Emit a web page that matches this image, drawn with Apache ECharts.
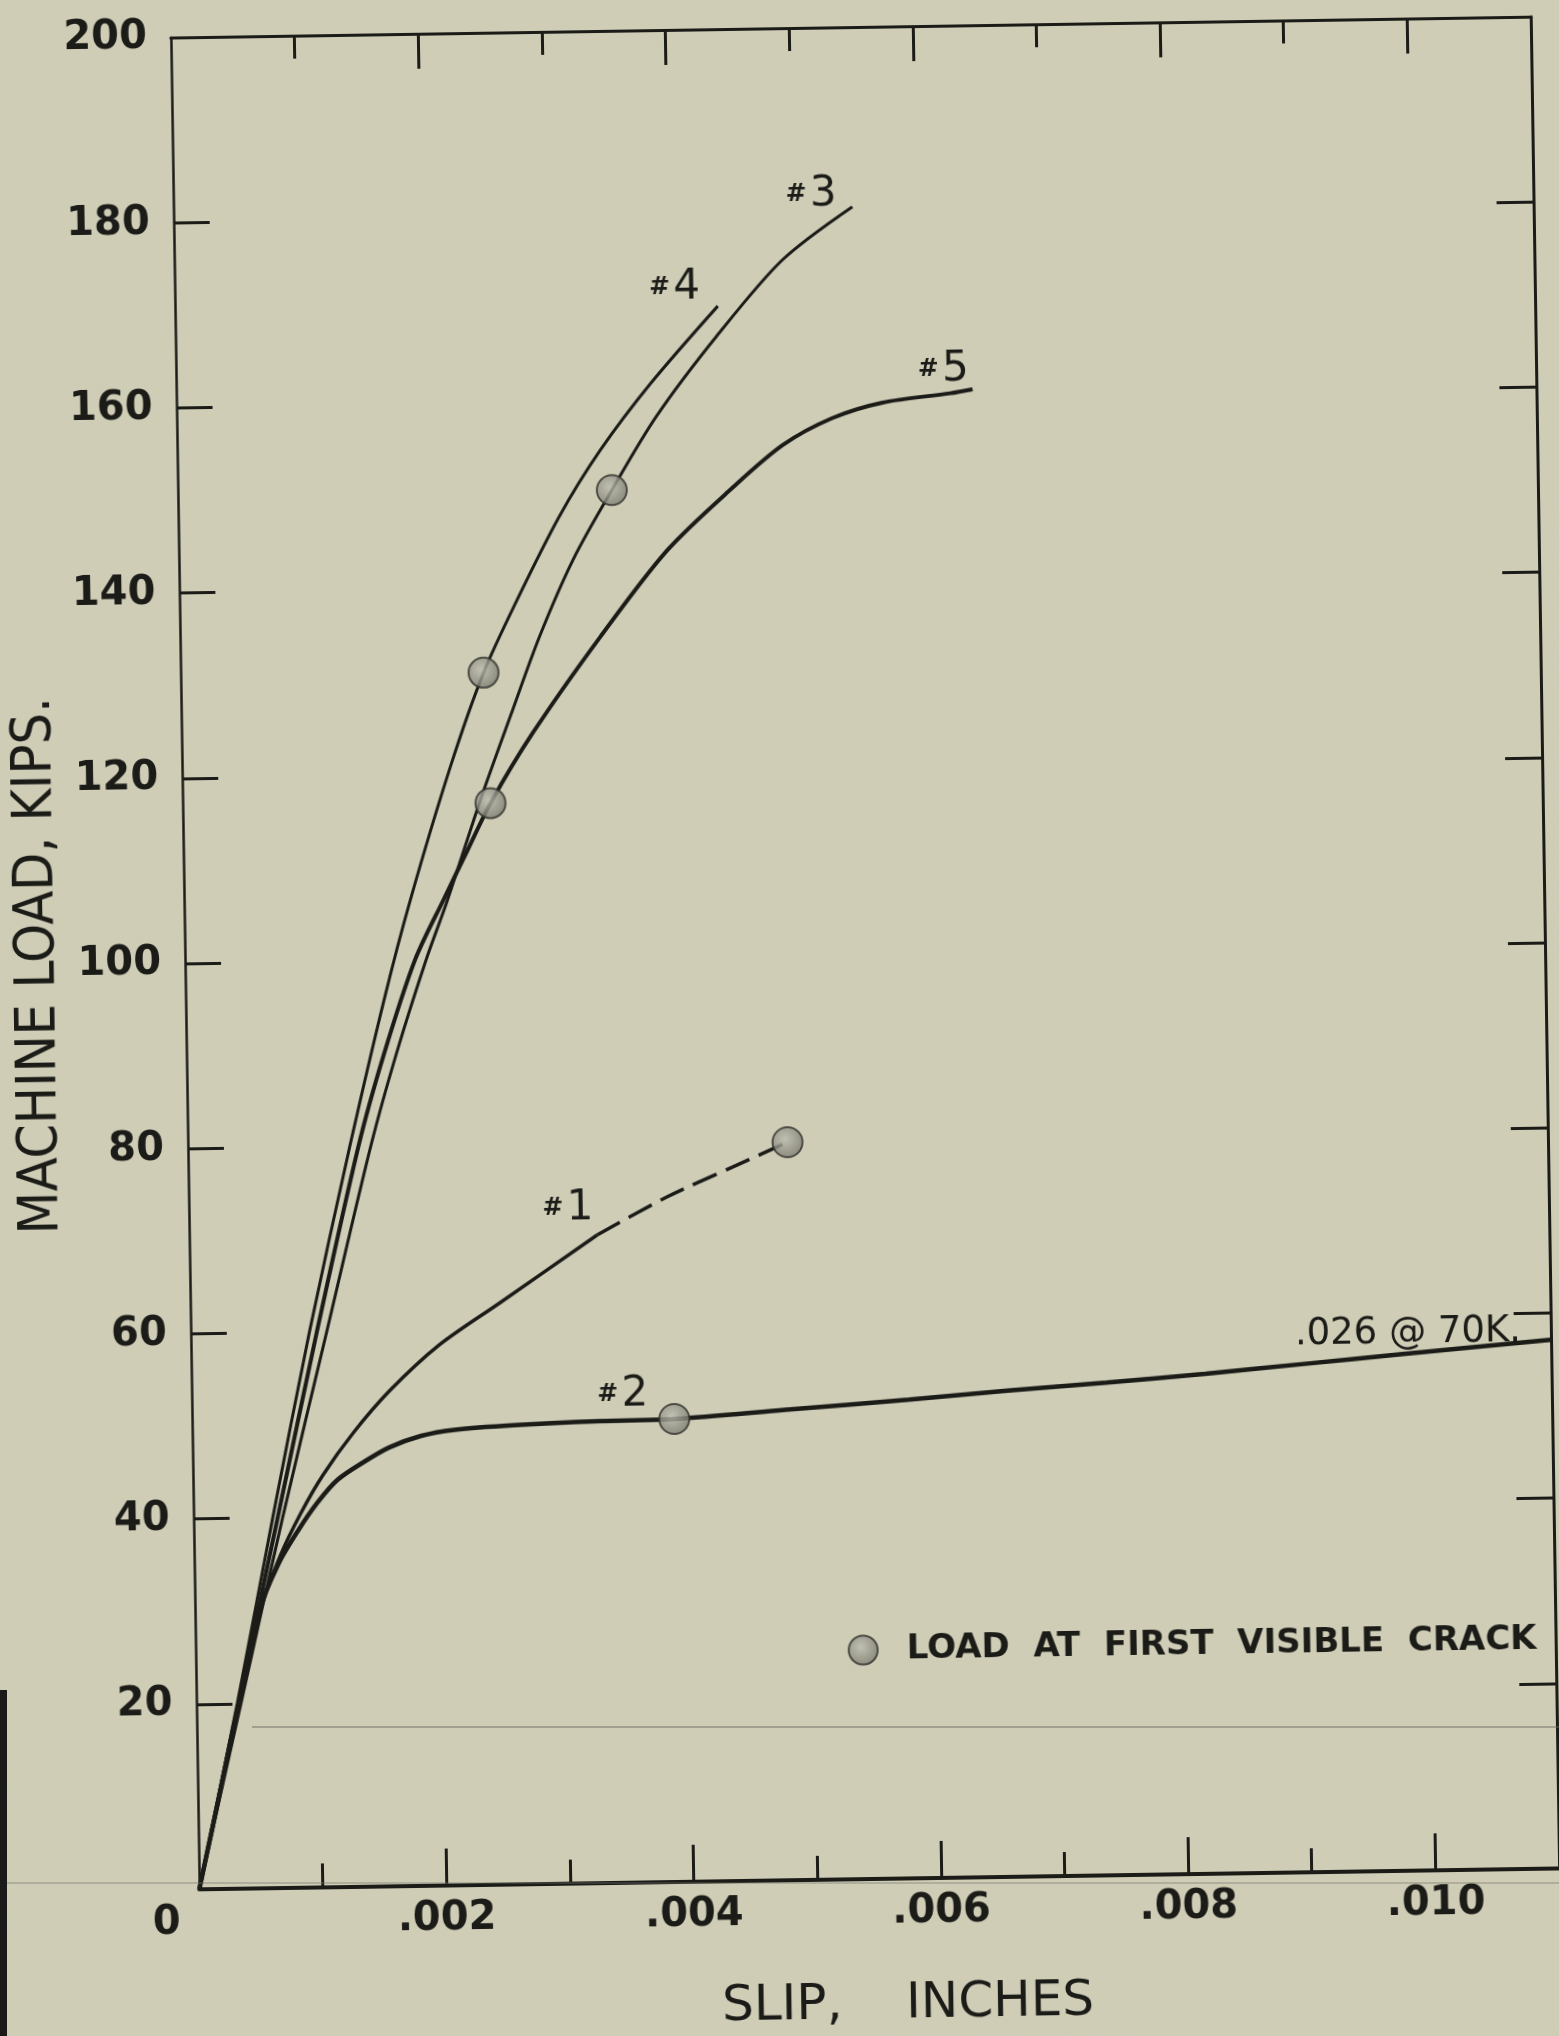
<!DOCTYPE html>
<html><head><meta charset="utf-8">
<script src="https://cdn.jsdelivr.net/npm/echarts@6/dist/echarts.min.js"></script>
<style>
html,body{margin:0;padding:0;background:#cfcdb6;width:1559px;height:2036px;overflow:hidden;}
#chart{position:absolute;left:0;top:0;width:1559px;height:2036px;transform-origin:865px 953px;transform:rotate(-0.88deg);}
.scan{position:absolute;pointer-events:none;}
</style></head><body>
<div id="chart"></div>
<div class="scan" style="left:252px;top:1726px;width:1307px;height:2px;background:rgba(105,105,95,0.45)"></div>
<div class="scan" style="left:0;top:1882px;width:1559px;height:2px;background:rgba(115,115,105,0.35)"></div>
<div class="scan" style="left:0;top:1690px;width:7px;height:346px;background:#1a1a18"></div>
<script>
// ---- tick labels ----
const slipLabelTicks = [0, 0.002, 0.004, 0.006, 0.008, 0.010];
const slipMajorTicks = [0.002, 0.004, 0.006, 0.008, 0.010];
const slipMinorTicks = [0.001, 0.003, 0.005, 0.007, 0.009];

// ---- specimen curves (slip in inches, load in kips) ----
const spec1SolidX = [0, 0.00018, 0.00036, 0.00053, 0.0007, 0.00087, 0.00105, 0.0013, 0.0016, 0.002, 0.0025, 0.0033];
const spec1SolidY = [0, 10.5, 20.5, 30, 36, 40.5, 44.5, 49, 53.5, 58.3, 62.8, 70];
const spec1DashX = [0.0033, 0.00387, 0.0044, 0.00485];
const spec1DashY = [70, 74, 77.1, 79.7];

const spec2X = [0, 0.00018, 0.00035, 0.00052, 0.00068, 0.00084, 0.001, 0.00117, 0.0014, 0.00159, 0.00185, 0.00212, 0.0026, 0.0033, 0.0039, 0.0048, 0.0058, 0.0066, 0.0074, 0.0082, 0.009, 0.0098, 0.011];
const spec2Y = [0, 10.5, 20.5, 30, 35, 38.5, 41.5, 44, 46, 47.4, 48.6, 49.2, 49.6, 49.9, 50.0, 50.8, 51.7, 52.5, 53.2, 54.0, 54.9, 55.8, 57.1];

const spec3X = [0, 0.00036, 0.00072, 0.0011, 0.00148, 0.0017, 0.00195, 0.00213, 0.00241, 0.00266, 0.00291, 0.00319, 0.00351, 0.00388, 0.00438, 0.00492, 0.00549];
const spec3Y = [0, 20, 40, 60, 80, 90, 100, 106.4, 117.2, 126.1, 134.8, 143, 150.4, 158.3, 166.9, 175, 180.6];

const spec4X = [0, 0.00033, 0.00064, 0.00096, 0.00131, 0.00161, 0.00183, 0.00217, 0.00245, 0.00273, 0.00308, 0.00342, 0.00384, 0.00439];
const spec4Y = [0, 20, 40, 60, 80, 96, 106.5, 120.8, 130.9, 138.7, 147.6, 154.7, 161.9, 170.1];

const spec5X = [0, 0.00034, 0.00068, 0.00102, 0.00138, 0.0016, 0.00186, 0.0021, 0.0023, 0.00249, 0.00284, 0.0034, 0.00395, 0.00449, 0.0049, 0.0053, 0.00571, 0.00626, 0.00644];
const spec5Y = [0, 20, 40, 60, 80, 90, 100, 106.5, 111.8, 116.8, 124.3, 134.6, 143.8, 150.5, 155.0, 157.8, 159.4, 160.3, 160.7];

// load at first visible crack (#4, #3, #5, #1, #2)
const crackX = [0.00245, 0.00351, 0.00249, 0.00485, 0.0039];
const crackY = [130.9, 150.4, 116.8, 79.7, 50.0];

const crackName = 'LOAD  AT  FIRST  VISIBLE  CRACK';
const spec2Note = '.026 @ 70K.';

// ---- build chart ----
const FONT = "'DejaVu Sans', 'Liberation Sans', sans-serif";
const FONT_NARROW = "'DejaVu Sans Condensed', 'Liberation Sans Narrow', 'DejaVu Sans', sans-serif";
const INK = '#1b1b18';
const pts = (xs, ys) => xs.map((x, i) => [x, ys[i]]);
const tagRich = {
  h: { fontSize: 25, fontFamily: FONT, fontWeight: 'bold', color: INK },
  d: { fontSize: 42, fontFamily: FONT, color: INK }
};
function tag(data, idx, num, offset) {
  data[idx] = { value: data[idx], label: { show: true, position: 'inside', offset: offset,
    formatter: '{h|#} {d|' + num + '}', rich: tagRich } };
  return data;
}
function curve(name, data, width, type) {
  return {
    name: name, type: 'line', data: data, smooth: 0.3,
    showSymbol: true, symbol: 'circle', symbolSize: 1,
    itemStyle: { color: 'rgba(0,0,0,0)' },
    lineStyle: { color: INK, width: width, type: type || 'solid' },
    emphasis: { disabled: true }, silent: true, z: 2
  };
}

const d1 = tag(pts(spec1SolidX, spec1SolidY), spec1SolidX.length - 1, '1', [-29, -27]);
const d2 = pts(spec2X, spec2Y);
tag(d2, spec2X.indexOf(0.0033), '2', [23, -26]);
d2[d2.length - 1] = { value: d2[d2.length - 1], label: { show: true, position: 'inside', offset: [-143, -9],
  formatter: spec2Note, fontSize: 37, fontFamily: FONT, color: INK } };
const d3 = tag(pts(spec3X, spec3Y), spec3X.length - 1, '3', [-41, -13]);
const d4 = tag(pts(spec4X, spec4Y), spec4X.length - 1, '4', [-43, -19]);
const d5 = tag(pts(spec5X, spec5Y), spec5X.length - 1, '5', [-29, -20]);

const axisLineStyle = (w) => ({ show: true, onZero: false, lineStyle: { color: INK, width: w } });
const xBase = { type: 'value', min: 0, max: 0.011, interval: 0.001, splitLine: { show: false }, gridIndex: 0 };
const tickFont = { fontSize: 40, fontFamily: FONT, fontWeight: 'bold', color: INK };

const chart = echarts.init(document.getElementById('chart'), null, { renderer: 'canvas' });
chart.setOption({
  animation: false,
  backgroundColor: '#cfcdb6',
  grid: { left: 185, top: 27, width: 1360, height: 1852, containLabel: false, outerBoundsMode: 'none' },
  legend: {
    data: [crackName], left: 832, top: 1628, icon: 'circle', itemWidth: 29, itemHeight: 29,
    selectedMode: false,
    textStyle: { fontSize: 34, fontFamily: FONT, fontWeight: 'bold', color: INK, padding: [0, 0, 0, 24] }
  },
  xAxis: [
    Object.assign({}, xBase, {
      position: 'bottom', axisLine: axisLineStyle(4),
      axisTick: { show: true, inside: true, length: 37, lineStyle: { color: INK, width: 3 }, customValues: slipMajorTicks },
      axisLabel: Object.assign({
        show: true, customValues: slipLabelTicks, margin: 14,
        formatter: v => v === 0 ? '{z|0}' : '.' + String(Math.round(v * 1000)).padStart(3, '0'),
        rich: { z: Object.assign({ padding: [0, 66, 0, 0] }, tickFont) }
      }, tickFont),
      name: 'SLIP,    INCHES', nameLocation: 'middle', nameGap: 101,
      nameTextStyle: { fontSize: 50, fontFamily: FONT, color: INK, padding: [0, 0, 0, 54] }
    }),
    Object.assign({}, xBase, {
      position: 'bottom', axisLine: { show: false, onZero: false },
      axisTick: { show: true, inside: true, length: 24, lineStyle: { color: INK, width: 3 }, customValues: slipMinorTicks },
      axisLabel: { show: false }
    }),
    Object.assign({}, xBase, {
      position: 'top', axisLine: axisLineStyle(3),
      axisTick: { show: true, inside: true, length: 35, lineStyle: { color: INK, width: 3 }, customValues: slipMajorTicks },
      axisLabel: { show: false }
    }),
    Object.assign({}, xBase, {
      position: 'top', axisLine: { show: false, onZero: false },
      axisTick: { show: true, inside: true, length: 23, lineStyle: { color: INK, width: 3 }, customValues: slipMinorTicks },
      axisLabel: { show: false }
    })
  ],
  yAxis: [
    {
      type: 'value', min: 0, max: 200, interval: 20, position: 'left', splitLine: { show: false },
      axisLine: axisLineStyle(2.5),
      axisTick: { show: true, inside: true, length: 36, lineStyle: { color: INK, width: 3 } },
      axisLabel: Object.assign({ margin: 24, formatter: v => v === 0 ? '' : String(v) }, tickFont),
      name: 'MACHINE LOAD, KIPS.', nameLocation: 'middle', nameGap: 108,
      nameTextStyle: { fontSize: 55, fontFamily: FONT_NARROW, color: INK }
    },
    {
      type: 'value', min: 0, max: 200, interval: 20, position: 'right', splitLine: { show: false },
      axisLine: axisLineStyle(3),
      axisTick: { show: true, inside: true, length: 37, lineStyle: { color: INK, width: 3 } },
      axisLabel: { show: false }
    }
  ],
  series: [
    curve('#1', d1, 3.5),
    curve('#1 dashed', pts(spec1DashX, spec1DashY), 3.5, [26, 10]),
    curve('#2', d2, 4.5),
    curve('#3', d3, 3),
    curve('#4', d4, 3),
    curve('#5', d5, 4),
    {
      name: crackName, type: 'scatter', data: pts(crackX, crackY), symbol: 'circle', symbolSize: 30,
      itemStyle: {
        color: { type: 'radial', x: 0.42, y: 0.4, r: 0.6,
          colorStops: [{ offset: 0, color: '#bdbdb0' }, { offset: 1, color: '#7a7a70' }] },
        borderColor: '#33332e', borderWidth: 2
      },
      emphasis: { disabled: true }, silent: true, z: 4
    }
  ]
});
</script>
</body></html>
